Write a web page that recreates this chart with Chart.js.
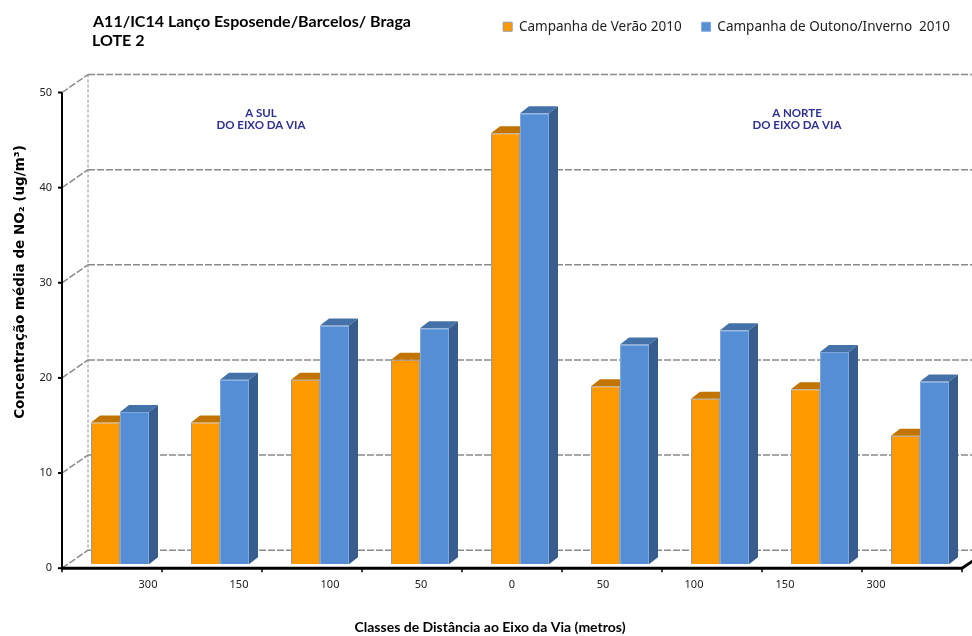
<!DOCTYPE html>
<html>
<head>
<meta charset="utf-8">
<title>NO2 - A11/IC14</title>
<script src="https://cdn.jsdelivr.net/npm/chart.js@4.4.1/dist/chart.umd.min.js"></script>
<style>
  body { margin: 0; background: #fff; }
</style>
</head>
<body>
<canvas id="no2Chart" width="972" height="636"></canvas>
<script>
// distance classes: south side of the road first, then north side
const distLabels = ["300", "150", "100", "50", "0", "50", "100", "150", "300"];
const summer2010 = [14.9, 14.9, 19.4, 21.5, 45.3, 18.7, 17.4, 18.4, 13.5];
const winter2010 = [16.0, 19.4, 25.1, 24.8, 47.4, 23.1, 24.6, 22.3, 19.2];
const yTicks = [0, 10, 20, 30, 40, 50];

// fake depth for the 3d look
const DX = 9, DY = -7;
const BACK_X = 18, BACK_Y = -14; // back wall offset from the bars
const FRONT_X = -8, FRONT_Y = 4; // front edge offset from the bars

const faces = [
  { top: "#c27400", side: "#b06800" },
  { top: "#4472a8", side: "#365d8d" },
];

const frame3d = {
  id: "frame3d",
  beforeDatasetsDraw(chart) {
    const { ctx, chartArea: a, scales: { y } } = chart;
    const backX = a.left + BACK_X;
    const frontX = a.left + FRONT_X;
    ctx.save();
    ctx.strokeStyle = "#8a8a8a";
    ctx.lineWidth = 1.5;
    ctx.setLineDash([7, 2]);
    yTicks.forEach((v) => {
      const py = y.getPixelForValue(v);
      // back wall gridline
      ctx.beginPath();
      ctx.moveTo(backX, py + BACK_Y);
      ctx.lineTo(chart.width, py + BACK_Y);
      ctx.stroke();
      // side wall connector
      ctx.beginPath();
      ctx.moveTo(frontX, py + FRONT_Y);
      ctx.lineTo(backX, py + BACK_Y);
      ctx.stroke();
    });
    // back left edge
    ctx.lineWidth = 1;
    ctx.setLineDash([3, 2]);
    ctx.beginPath();
    ctx.moveTo(backX, y.getPixelForValue(50) + BACK_Y);
    ctx.lineTo(backX, y.getPixelForValue(0) + BACK_Y);
    ctx.stroke();
    ctx.restore();
  },
  afterDatasetsDraw(chart) {
    const { ctx, chartArea: a, scales: { y } } = chart;
    ctx.save();
    chart.data.datasets.forEach((ds, di) => {
      const meta = chart.getDatasetMeta(di);
      meta.data.forEach((bar) => {
        const { x, y: top, base, width } = bar.getProps(["x", "y", "base", "width"], true);
        const l = x - width / 2;
        const r = x + width / 2;
        // top face (the summer bar only shows the part left of its neighbour)
        const rr = di === 0 ? r : r + DX;
        ctx.fillStyle = faces[di].top;
        ctx.beginPath();
        ctx.moveTo(l, top);
        ctx.lineTo(l + DX, top + DY);
        ctx.lineTo(rr, top + DY);
        ctx.lineTo(r, top);
        ctx.closePath();
        ctx.fill();
        if (di === 1) {
          ctx.fillStyle = faces[di].side;
          ctx.beginPath();
          ctx.moveTo(r, top);
          ctx.lineTo(r + DX, top + DY);
          ctx.lineTo(r + DX, base + DY);
          ctx.lineTo(r, base);
          ctx.closePath();
          ctx.fill();
        }
      });
    });

    // front axes
    const fx = a.left + FRONT_X;
    const fr = a.right + FRONT_X;
    const y0 = y.getPixelForValue(0) + FRONT_Y;
    const y50 = y.getPixelForValue(50) + FRONT_Y;
    ctx.strokeStyle = "#000";
    ctx.lineWidth = 2;
    ctx.beginPath();
    ctx.moveTo(fx, y50);
    ctx.lineTo(fx, y0);
    ctx.stroke();
    yTicks.forEach((v) => {
      const py = y.getPixelForValue(v) + FRONT_Y;
      ctx.beginPath();
      ctx.moveTo(fx - 4, py);
      ctx.lineTo(fx, py);
      ctx.stroke();
    });
    ctx.lineWidth = 3;
    ctx.beginPath();
    ctx.moveTo(fx - 1, y0);
    ctx.lineTo(fr, y0);
    ctx.lineTo(fr + 12, y0 - 8);
    ctx.stroke();
    ctx.lineWidth = 1.5;
    const step = (a.right - a.left) / distLabels.length;
    for (let k = 0; k <= distLabels.length; k++) {
      const px = fx + k * step;
      ctx.beginPath();
      ctx.moveTo(px, y0);
      ctx.lineTo(px, y0 + 4);
      ctx.stroke();
    }
    ctx.restore();
  },
  afterDraw(chart) {
    const { ctx, scales: { x, y } } = chart;
    ctx.save();
    ctx.fillStyle = "#000";
    ctx.textBaseline = "middle";
    ctx.textAlign = "left";
    ctx.font = "bold 16px Lato";
    ctx.fillText("A11/IC14 Lanço Esposende/Barcelos/ Braga", 93, 22);
    ctx.fillText("LOTE 2", 92, 41);

    // y axis title
    ctx.save();
    ctx.translate(20, 282);
    ctx.rotate(-Math.PI / 2);
    ctx.textAlign = "center";
    ctx.font = "bold 13.5px 'DejaVu Sans'";
    ctx.fillText("Concentração média de NO₂ (ug/m³)", 0, 0);
    ctx.restore();

    // side notes
    ctx.fillStyle = "#2e3192";
    ctx.textAlign = "center";
    ctx.font = "bold 11.5px Lato";
    const notes = [
      { at: 1.41, lines: ["A SUL", "DO EIXO DA VIA"] },
      { at: 6.77, lines: ["A NORTE", "DO EIXO DA VIA"] },
    ];
    const ny = y.getPixelForValue(47.4);
    notes.forEach((n) => {
      const nx = x.getPixelForValue(n.at);
      n.lines.forEach((t, i) => ctx.fillText(t, nx, ny + i * 12.5));
    });
    ctx.restore();
  },
};

new Chart(document.getElementById("no2Chart"), {
  type: "bar",
  data: {
    labels: distLabels,
    datasets: [
      {
        label: "Campanha de Verão 2010",
        data: summer2010,
        backgroundColor: "#ff9900",
        borderColor: "#9b9b9b",
        borderWidth: 1,
      },
      {
        label: "Campanha de Outono/Inverno  2010",
        data: winter2010,
        backgroundColor: "#558ed5",
        borderColor: "#7ea9df",
        borderWidth: 1,
      },
    ],
  },
  options: {
    responsive: false,
    animation: false,
    devicePixelRatio: 1,
    categoryPercentage: 0.58,
    barPercentage: 1,
    layout: { padding: { left: 10, right: 2 } },
    scales: {
      // bar axis, kept at the top only to reserve room under the legend
      x: {
        position: "top",
        ticks: { display: false },
        grid: { display: false, drawTicks: false },
        border: { display: false },
        afterFit: (s) => { s.height = 45; },
      },
      // distance labels as drawn on the perspective floor
      xl: {
        type: "linear",
        position: "bottom",
        offset: false,
        min: -0.857,
        max: 9.033,
        grid: { display: false, drawTicks: false, offset: false },
        border: { display: false },
        afterBuildTicks: (s) => { s.ticks = distLabels.map((_, i) => ({ value: i })); },
        ticks: {
          autoSkip: false,
          maxRotation: 0,
          padding: 14,
          color: "#222",
          font: { family: "Noto Sans", size: 11 },
          callback: (v) => distLabels[v],
        },
        afterFit: (s) => { s.height = 53; },
      },
      y: {
        min: 0,
        max: 50,
        grid: { display: false, drawTicks: false },
        border: { display: false },
        afterBuildTicks: (s) => { s.ticks = yTicks.map((v) => ({ value: v })); },
        ticks: {
          padding: 18,
          labelOffset: FRONT_Y,
          color: "#222",
          font: { family: "Noto Sans", size: 11 },
        },
        afterFit: (s) => { s.width = 60; },
      },
    },
    plugins: {
      legend: {
        position: "top",
        align: "end",
        labels: {
          boxWidth: 9,
          boxHeight: 9,
          padding: 20,
          color: "#222",
          font: { family: "Noto Sans", size: 13.5 },
        },
      },
      title: {
        display: true,
        position: "bottom",
        text: "Classes de Distância ao Eixo da Via (metros)",
        color: "#000",
        font: { family: "Lato", size: 14, weight: "bold" },
        padding: { top: 2, bottom: 0 },
      },
      tooltip: { enabled: false },
    },
  },
  plugins: [frame3d],
});
</script>
</body>
</html>
